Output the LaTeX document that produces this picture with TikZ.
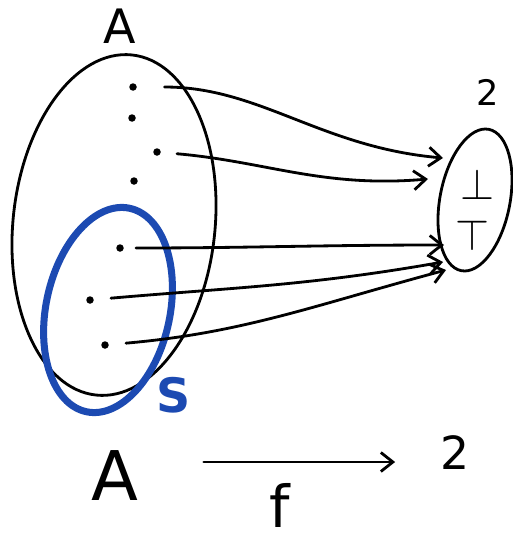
\documentclass[tikz,border=0pt]{standalone}
\usepackage{fontspec}
\setmainfont{DejaVu Sans}
\usepackage{tikz}
\usetikzlibrary{arrows.meta,shapes.geometric}
\definecolor{setblue}{RGB}{28,74,178}

\begin{document}
\begin{tikzpicture}[x=0.02cm,y=-0.02cm,
    pen/.style={line width=1.6pt,line cap=round},
    pt/.style={circle,fill,inner sep=0pt,minimum size=1.5mm},
    maparrow/.style={pen,-{Straight Barb[length=2.4mm,width=3.8mm]}},
    hand/.style={inner sep=0pt,font=\fontsize{#1}{#1}\selectfont}]
  \useasboundingbox (0,0) rectangle (513,541);
  % set A with its points
  \node[hand=27] (labA) at (120,26) {A};
  \draw[pen,rotate around={-6:(114,225)}] (114,225) ellipse (101 and 171);
  \node[pt] (a1) at (133,87) {};
  \node[pt] (a2) at (132,118) {};
  \node[pt] (a3) at (157,152) {};
  \node[pt] (a4) at (134,181) {};
  \node[pt] (a5) at (120,248) {};
  \node[pt] (a6) at (90,300) {};
  \node[pt] (a7) at (105,345) {};
  % subset S
  \draw[setblue,line width=4pt,rotate around={-12:(108,310)}] (108,310) ellipse (62 and 104);
  \node[text=setblue,inner sep=0pt,font=\fontsize{27}{27}\selectfont\bfseries] (labS) at (174,395) {S};
  % the set 2
  \node[hand=20] (lab2) at (488,92) {2};
  \draw[pen,rotate around={-11:(475,200)}] (475,200) ellipse (35 and 72);
  \node[hand=26] (bot) at (477,184) {$\bot$};
  \node[hand=26] (top) at (472,235) {$\top$};
  \coordinate (t1) at (443,158);
  \coordinate (t2) at (428,179);
  \coordinate (t3) at (444,245);
  \coordinate (t4) at (443,262);
  \coordinate (t5) at (446,270);
  % the map f, point by point
  \draw[maparrow,shorten <=5.5mm] (a1) to[out=0,in=175] (t1);
  \draw[maparrow,shorten <=3.2mm] (a3) to[out=-5,in=185] (t2);
  \draw[maparrow,shorten <=2.4mm] (a5) to[out=0,in=180] (t3);
  \draw[maparrow,shorten <=3.4mm] (a6) to[out=5,in=190] (t4);
  \draw[maparrow,shorten <=3.4mm] (a7) to[out=5,in=195] (t5);
  % A --f--> 2
  \node[hand=39] (botA) at (115,476) {A};
  \node[hand=26] (bot2) at (455,453) {2};
  \node[hand=33] (labf) at (280,505) {f};
  \draw[maparrow,shorten <=1.3cm,shorten >=0.9cm] (botA.east |- 0,462) -- (bot2.west |- 0,462);
\end{tikzpicture}
\end{document}
